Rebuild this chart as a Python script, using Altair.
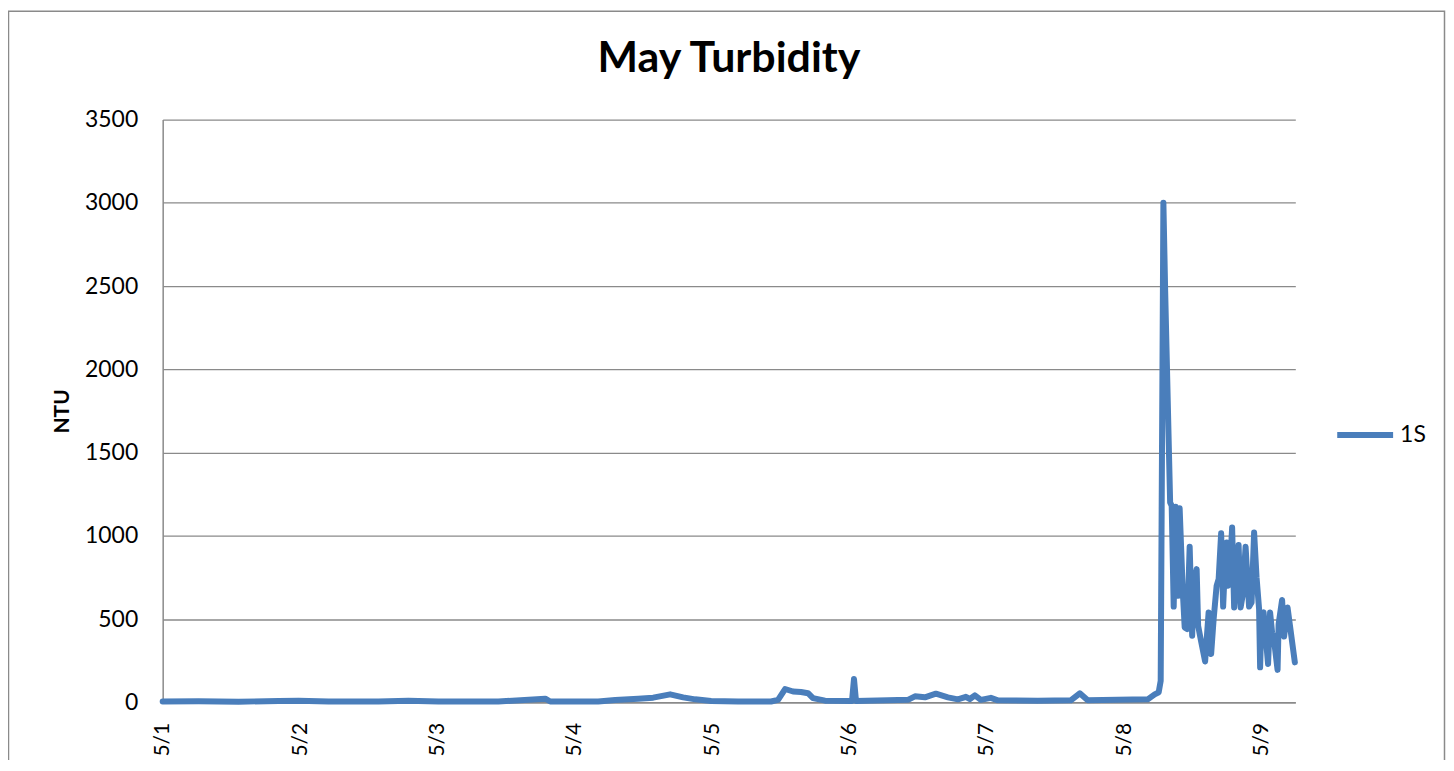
import altair as alt
import pandas as pd

# Hours since 5/1 00:00 and turbidity (NTU)
hours = [0, 6.28, 13.27, 20.25, 23.74, 28.98, 37.70, 42.94, 48.18, 58.65,
         66.85, 67.72, 76.10, 79.07, 83.09, 85.70, 88.67, 90.94, 93.04, 95.83,
         100.54, 106.30, 107.52, 108.75, 110.14, 111.54, 112.76, 113.63, 115.73, 120.44,
         120.79, 121.14, 126.72, 130.21, 131.44, 133.18, 135.10, 137.20, 138.94, 140.34,
         141.04, 141.91, 142.96, 144.70, 145.92, 152.91, 158.67, 160.24, 161.63, 166.87,
         172.11, 173.33, 174.03, 174.38, 174.85, 175.16, 176.03, 176.30, 176.65, 176.99,
         177.43, 177.69, 178.22, 178.57, 179.00, 179.44, 179.88, 180.14, 180.66, 180.92,
         181.36, 182.14, 182.75, 183.19, 183.63, 184.15, 184.50, 184.94, 185.29, 185.55,
         185.90, 186.16, 186.42, 186.86, 187.21, 187.99, 188.34, 188.69, 189.21, 189.82,
         190.26, 190.70, 191.13, 191.57, 191.75, 192.01, 192.36, 193.14, 193.49, 193.84,
         194.19, 194.80, 194.98, 195.59, 195.94, 196.54, 197.82]
ntu = [5, 6, 4, 8, 10, 5, 5, 10, 5, 5,
       22, 5, 5, 14, 22, 28, 48, 30, 18, 8,
       5, 5, 15, 80, 65, 62, 55, 25, 10, 8,
       140, 8, 12, 15, 36, 30, 52, 30, 18, 33,
       20, 42, 15, 27, 12, 10, 12, 54, 12, 15,
       18, 48, 60, 130, 3000, 2470, 1200, 1180, 575, 1175,
       640, 1165, 680, 450, 440, 935, 400, 700, 800, 460,
       380, 245, 540, 290, 500, 700, 740, 1015, 575, 780,
       960, 700, 760, 1050, 570, 945, 570, 640, 935, 575,
       600, 1020, 750, 560, 210, 520, 540, 230, 540, 420,
       370, 195, 470, 615, 395, 570, 240]
series_name = "1S"
day_ticks = [0, 24, 48, 72, 96, 120, 144, 168, 192]
y_ticks = [0, 500, 1000, 1500, 2000, 2500, 3000, 3500]

df = pd.DataFrame({"hours": hours, "ntu": ntu, "series": series_name})

FONT = "Lato"
GRID = "#8a8a8a"

line = alt.Chart(df).mark_line(
    strokeWidth=6, strokeCap="round", strokeJoin="round"
).encode(
    x=alt.X("hours:Q",
            scale=alt.Scale(domain=[0, 197.9], nice=False, zero=False),
            axis=alt.Axis(values=day_ticks, title=None, grid=False, ticks=False,
                          labelExpr="'5/' + (datum.value/24 + 1)",
                          labelAngle=-90, labelFont=FONT, labelFontSize=21,
                          labelColor="black", labelPadding=20,
                          domainColor=GRID, domainWidth=1.5)),
    y=alt.Y("ntu:Q",
            scale=alt.Scale(domain=[0, 3500], nice=False),
            axis=alt.Axis(values=y_ticks, title="NTU", grid=True, ticks=False,
                          format="d",
                          gridColor=GRID, gridWidth=1.3,
                          labelFont=FONT, labelFontSize=23, labelColor="black",
                          labelPadding=25, titleFont=FONT, titleFontSize=21,
                          titleFontWeight="bold", titleColor="black",
                          titlePadding=12, domainColor=GRID, domainWidth=1.5)),
    color=alt.Color("series:N",
                    scale=alt.Scale(range=["#4A7EBB"]),
                    legend=alt.Legend(title=None, orient="none",
                                      legendX=1174, legendY=285,
                                      symbolType="stroke", symbolSize=3136,
                                      symbolStrokeWidth=6, labelFont=FONT,
                                      labelFontSize=23, labelColor="black",
                                      labelOffset=4, padding=0)),
)

frame = alt.Chart(pd.DataFrame({"a": [0]})).mark_rect(
    fillOpacity=0, stroke=GRID, strokeWidth=1.5
).encode(
    x=alt.value(-154.5), x2=alt.value(1284.5),
    y=alt.value(-108.5), y2=alt.value(900),
)

chart = alt.layer(frame, line).properties(
    width=1135, height=584,
    title=alt.Title("May Turbidity", font=FONT, fontSize=43, fontWeight="bold",
                    color="black", anchor="middle", offset=0,
                    baseline="alphabetic", dy=105),
    padding={"left": 155, "top": 111, "right": 151, "bottom": 57},
    autosize=alt.AutoSizeParams(type="none"),
).configure_view(stroke=None)

chart.save("out.html", embed_options={"renderer": "svg", "actions": False})
